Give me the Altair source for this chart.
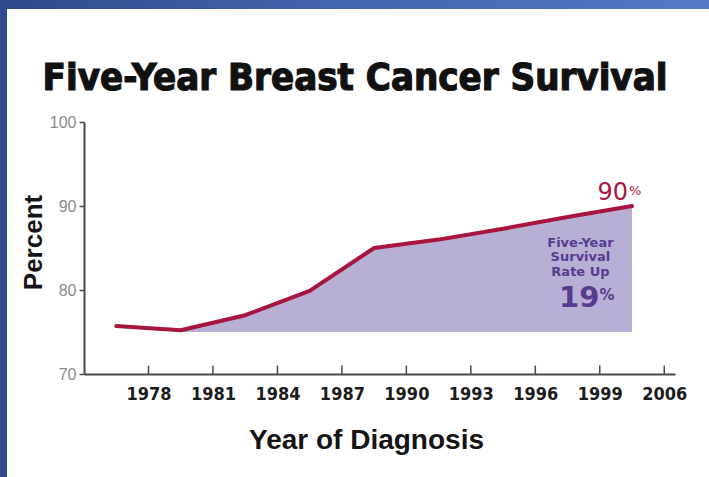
import altair as alt
import pandas as pd

# Five-year survival (%) by period of diagnosis, plotted at each period's midpoint
years = [1976.5, 1979.5, 1982.5, 1985.5, 1988.5, 1991.5, 1994.5, 1997.5, 2000.5]
survival = [75.7, 75.2, 77.0, 79.9, 85.0, 86.0, 87.3, 88.7, 90.0]

# x-axis tick positions and the labels printed under them
tick_years = [1978, 1981, 1984, 1987, 1990, 1993, 1996, 1999, 2002]
tick_labels = ["1978", "1981", "1984", "1987", "1990", "1993", "1996", "1999", "2006"]
y_ticks = [70, 80, 90, 100]

# shaded gain region
shade_start = 1979.5
shade_floor = 75

final_rate = 90
rate_gain = 19
title_text = "Five-Year Breast Cancer Survival"
note_text = ["Five-Year", "Survival", "Rate Up"]

# page geometry
W, H = 709, 477
PAD_L, PAD_T = 84, 122
PLOT_W, PLOT_H = 591, 252

LINE_RED = "#a8153f"
LAVENDER = "#b8afd5"
PURPLE = "#573b8f"
COND = "DejaVu Sans Condensed, DejaVu Sans, sans-serif"
SANS = "Liberation Sans, Arial, sans-serif"
ROUND = "DejaVu Sans, sans-serif"

df = pd.DataFrame({"year": years, "pct": survival})
ticks_df = pd.DataFrame({"year": tick_years})

label_expr = "[{}][indexof([{}], datum.value)]".format(
    ",".join("'%s'" % t for t in tick_labels),
    ",".join(str(t) for t in tick_years),
)

x_scale = alt.Scale(domain=[1975, 2002.5], nice=False, zero=False)
y_scale = alt.Scale(domain=[70, 100], nice=False, zero=False)

x_axis = alt.Axis(
    values=tick_years, labelExpr=label_expr, ticks=False, grid=False,
    domainColor="#4a4a4a", domainWidth=2, labelFlush=False,
    labelFont=COND, labelFontSize=18, labelFontWeight="bold",
    labelColor="#1c1c1c", labelPadding=11,
    title="Year of Diagnosis", titleFont=SANS, titleFontSize=28,
    titleFontWeight="bold", titleColor="#141414",
    titleX=282, titleY=74, titleAlign="center", titleBaseline="alphabetic",
)
y_axis = alt.Axis(
    values=y_ticks, grid=False, tickSize=5, tickColor="#4a4a4a", tickWidth=1.5,
    domainColor="#4a4a4a", domainWidth=2, labelFlush=False,
    labelFont=SANS, labelFontSize=16, labelColor="#8a8a8a", labelPadding=3,
    title="Percent", titleFont=SANS, titleFontSize=26, titleFontWeight="bold",
    titleColor="#141414", titleAngle=270, titleX=-51, titleY=120,
    titleAlign="center", titleBaseline="middle",
)

one = alt.Data(values=[{}])

# blue slide frame: dark strip on the left, gradient bar along the top
left_strip = alt.Chart(one).mark_rect(color="#2d4a8b").encode(
    x=alt.value(-PAD_L), x2=alt.value(-PAD_L + 7),
    y=alt.value(-PAD_T), y2=alt.value(H - PAD_T),
)
top_bar = alt.Chart(one).mark_rect(
    fill=alt.LinearGradient(
        gradient="linear", x1=0, x2=1, y1=0, y2=0,
        stops=[alt.GradientStop(color="#2d4a8b", offset=0),
               alt.GradientStop(color="#4466b0", offset=0.5),
               alt.GradientStop(color="#5577c4", offset=1)],
    )
).encode(
    x=alt.value(-PAD_L), x2=alt.value(W - PAD_L),
    y=alt.value(-PAD_T), y2=alt.value(-PAD_T + 9),
)

# heading, set above the plot in the top padding
heading = alt.Chart(one).mark_text(
    text=title_text, font=COND, fontSize=38, fontWeight="bold",
    color="#111111", stroke="#111111", strokeWidth=1.2,
    align="center", baseline="alphabetic",
).encode(x=alt.value(355 - PAD_L), y=alt.value(90 - PAD_T))

area = alt.Chart(df).transform_filter(
    alt.datum.year >= shade_start
).mark_area(color=LAVENDER, opacity=1).encode(
    x=alt.X("year:Q", scale=x_scale, axis=x_axis),
    y=alt.Y("pct:Q", scale=y_scale, axis=y_axis),
    y2=alt.datum(shade_floor),
)

line = alt.Chart(df).mark_line(
    color=LINE_RED, strokeWidth=4, strokeJoin="round", strokeCap="round"
).encode(
    x=alt.X("year:Q", scale=x_scale),
    y=alt.Y("pct:Q", scale=y_scale),
)

# x ticks rise inward from the axis line
xticks = alt.Chart(ticks_df).mark_rule(color="#4a4a4a", strokeWidth=1.5).encode(
    x=alt.X("year:Q", scale=x_scale),
    y=alt.datum(70),
    y2=alt.datum(71),
)

end_year = years[-1]
label_90 = alt.Chart(one).mark_text(
    text=str(final_rate), font=ROUND, fontSize=24, color=LINE_RED,
    align="right", baseline="alphabetic", dx=-4, dy=-6,
).encode(x=alt.datum(end_year), y=alt.datum(final_rate))
label_90_pct = alt.Chart(one).mark_text(
    text="%", font=ROUND, fontSize=13, color=LINE_RED,
    align="left", baseline="alphabetic", dx=-3, dy=-11,
).encode(x=alt.datum(end_year), y=alt.datum(final_rate))

note_x = 1998.1
note_lines = alt.Chart(
    pd.DataFrame({"t": note_text, "v": [85.15, 83.4, 81.65]})
).mark_text(
    font=ROUND, fontSize=13, fontWeight="bold", color=PURPLE,
    align="center", baseline="alphabetic",
).encode(
    x=alt.datum(note_x), y=alt.Y("v:Q", scale=y_scale), text="t:N",
)
note_gain = alt.Chart(one).mark_text(
    text=str(rate_gain), font=ROUND, fontSize=29, fontWeight="bold", color=PURPLE,
    align="right", baseline="alphabetic", dx=19,
).encode(x=alt.datum(note_x), y=alt.datum(78.0))
note_gain_pct = alt.Chart(one).mark_text(
    text="%", font=ROUND, fontSize=15, fontWeight="bold", color=PURPLE,
    align="left", baseline="alphabetic", dx=19, dy=-7,
).encode(x=alt.datum(note_x), y=alt.datum(78.0))

chart = alt.layer(
    left_strip, top_bar, heading, area, line, xticks,
    label_90, label_90_pct, note_lines, note_gain, note_gain_pct,
).properties(
    width=PLOT_W, height=PLOT_H,
    background="white",
    autosize=alt.AutoSizeParams(type="none"),
    padding={"left": PAD_L, "top": PAD_T, "right": W - PAD_L - PLOT_W,
             "bottom": H - PAD_T - PLOT_H},
).configure_view(stroke=None, strokeWidth=0)

chart.save("out.html", embed_options={"renderer": "svg", "actions": False})
